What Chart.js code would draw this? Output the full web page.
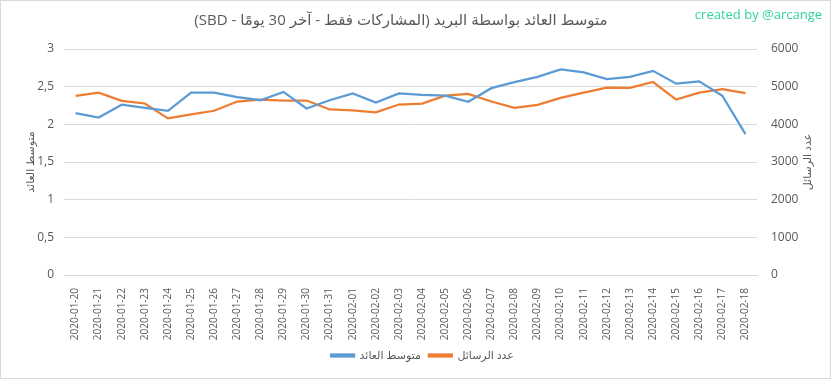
<!DOCTYPE html>
<html>
<head>
<meta charset="utf-8">
<script src="https://cdn.jsdelivr.net/npm/chart.js@4.4.1/dist/chart.umd.min.js"></script>
<style>
  html, body { margin: 0; padding: 0; background: #fff; }
  #wrap { width: 833px; height: 379px; position: relative; }
</style>
</head>
<body>
<div id="wrap"><canvas id="chart"></canvas></div>
<script>
// data
var days = ["2020-01-20","2020-01-21","2020-01-22","2020-01-23","2020-01-24","2020-01-25","2020-01-26","2020-01-27","2020-01-28","2020-01-29",
  "2020-01-30","2020-01-31","2020-02-01","2020-02-02","2020-02-03","2020-02-04","2020-02-05","2020-02-06","2020-02-07","2020-02-08",
  "2020-02-09","2020-02-10","2020-02-11","2020-02-12","2020-02-13","2020-02-14","2020-02-15","2020-02-16","2020-02-17","2020-02-18"];
var avgReturn = [2.15,2.09,2.26,2.22,2.18,2.42,2.42,2.36,2.32,2.43,
  2.21,2.32,2.41,2.29,2.41,2.39,2.38,2.30,2.48,2.56,
  2.63,2.73,2.69,2.60,2.63,2.71,2.54,2.57,2.38,1.87];
var msgCount = [4755,4842,4624,4553,4158,4263,4360,4605,4658,4632,
  4632,4395,4368,4316,4526,4550,4763,4808,4605,4439,
  4518,4703,4842,4974,4966,5124,4658,4842,4932,4826];
var leftTicks = [0, 0.5, 1, 1.5, 2, 2.5, 3];
var rightTicks = [0, 1000, 2000, 3000, 4000, 5000, 6000];

var titleText = "متوسط العائد بواسطة البريد (المشاركات فقط - آخر 30 يومًا - SBD)";
var rightTitle = "عدد الرسائل";

var blue = "#5B9BD5";
var orange = "#ED7D31";
var grid = "#D9D9D9";
var txt = "#595959";
var fam = "'Open Sans', 'DejaVu Sans', sans-serif";

// frame, title (rtl), right axis title, credit
var extras = {
  id: "extras",
  beforeDraw: function (c) {
    var ctx = c.ctx;
    ctx.save();
    ctx.fillStyle = "#fff";
    ctx.fillRect(0, 0, c.width, c.height);
    ctx.restore();
  },
  afterDraw: function (c) {
    var ctx = c.ctx;
    var a = c.chartArea;
    ctx.save();
    ctx.strokeStyle = grid;
    ctx.lineWidth = 1;
    ctx.strokeRect(0.5, 0.5, c.width - 3, c.height - 1);

    ctx.direction = "rtl";
    ctx.fillStyle = txt;
    ctx.font = "15px " + fam;
    ctx.textAlign = "center";
    ctx.textBaseline = "middle";
    ctx.fillText(titleText, 401, 21);

    ctx.save();
    ctx.translate(808, (a.top + a.bottom) / 2);
    ctx.rotate(-Math.PI / 2);
    ctx.font = "11px " + fam;
    ctx.fillText(rightTitle, 0, 0);
    ctx.restore();

    ctx.direction = "ltr";
    ctx.fillStyle = "#2FD3A3";
    ctx.font = "13px " + fam;
    ctx.textAlign = "right";
    ctx.fillText("created by @arcange", 822, 15);
    ctx.restore();
  }
};

Chart.defaults.font.family = fam;
Chart.defaults.color = txt;

new Chart("chart", {
  type: "line",
  data: {
    labels: days,
    datasets: [{
      label: "متوسط العائد",
      data: avgReturn,
      borderColor: blue,
      backgroundColor: blue,
      borderWidth: 2.25,
      pointRadius: 0,
      yAxisID: "y",
      fill: false
    }, {
      label: "عدد الرسائل",
      data: msgCount,
      borderColor: orange,
      backgroundColor: orange,
      borderWidth: 2.25,
      pointRadius: 0,
      yAxisID: "y1",
      fill: false
    }]
  },
  options: {
    responsive: true,
    maintainAspectRatio: false,
    animation: false,
    layout: { padding: { left: 24, right: 12, top: 49, bottom: 8 } },
    plugins: {
      title: { display: false },
      legend: {
        position: "bottom",
        labels: { boxWidth: 23, boxHeight: 2, font: { size: 11 }, padding: 8 }
      },
      tooltip: { enabled: false }
    },
    scales: {
      x: {
        offset: true,
        grid: { display: false },
        border: { color: grid },
        ticks: { minRotation: 90, maxRotation: 90, autoSkip: false, font: { size: 10 }, padding: 5 },
        afterFit: function (s) { s.height = 67; }
      },
      y: {
        position: "left",
        min: 0, max: 3,
        afterBuildTicks: function (s) { s.ticks = leftTicks.map(function (v) { return { value: v }; }); },
        grid: { color: grid, drawTicks: false },
        border: { display: false },
        ticks: {
          font: { size: 12 }, padding: 10,
          callback: function (v) { return String(v).replace(".", ","); }
        },
        title: { display: true, text: "متوسط العائد", font: { size: 11 }, padding: 0 },
        afterFit: function (s) { s.width = 40; }
      },
      y1: {
        position: "right",
        min: 0, max: 6000,
        afterBuildTicks: function (s) { s.ticks = rightTicks.map(function (v) { return { value: v }; }); },
        grid: { display: false, drawTicks: false },
        border: { display: false },
        ticks: { font: { size: 12 }, padding: 14, callback: function (v) { return String(v); } },
        afterFit: function (s) { s.width = 64; }
      }
    }
  },
  plugins: [extras]
});
</script>
</body>
</html>
